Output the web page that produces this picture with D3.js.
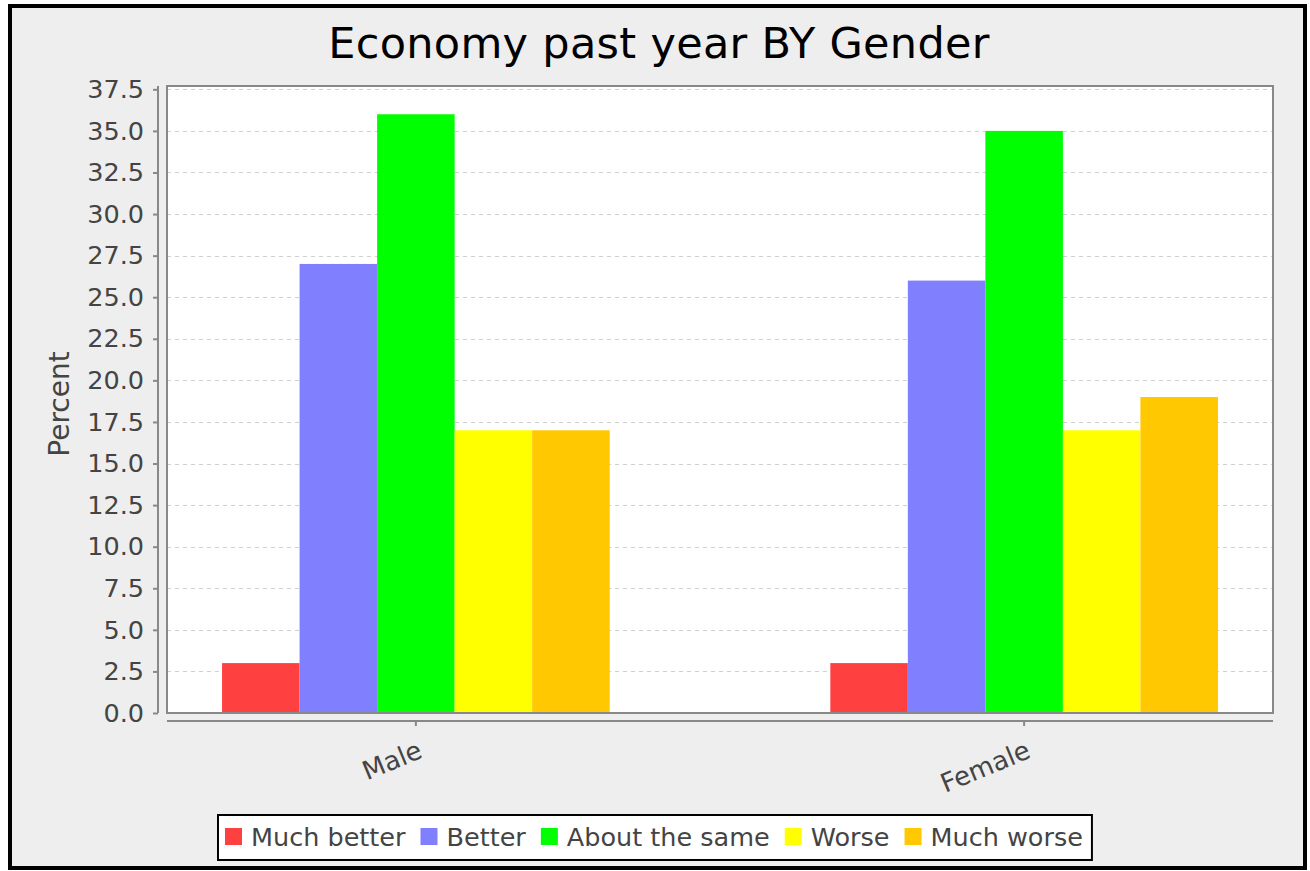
<!DOCTYPE html>
<html>
<head>
<meta charset="utf-8">
<script src="https://cdn.jsdelivr.net/npm/d3@7"></script>
<style>
  body { margin: 0; background: #ffffff; }
  svg text { font-family: "DejaVu Sans", sans-serif; }
</style>
</head>
<body>
<div class="chart"></div>
<script>
// chart data
const categories = ["Male", "Female"];
const seriesNames = ["Much better", "Better", "About the same", "Worse", "Much worse"];
const muchBetter = [3, 3];
const better = [27, 26];
const aboutSame = [36, 35];
const worse = [17, 17];
const muchWorse = [17, 19];
const yTicks = [0, 2.5, 5, 7.5, 10, 12.5, 15, 17.5, 20, 22.5, 25, 27.5, 30, 32.5, 35, 37.5];
const colors = ["#ff4040", "#8080ff", "#00ff00", "#ffff00", "#ffc800"];

const seriesValues = [muchBetter, better, aboutSame, worse, muchWorse];

const WIDTH = 1310;
const HEIGHT = 871;
const PLOT = { left: 167, right: 1273, top: 86, bottom: 713 };

var svg = d3.select(".chart")
  .append("svg")
  .attr("width", WIDTH)
  .attr("height", HEIGHT);

// background and frame
svg.append("rect")
  .attr("x", 0).attr("y", 0)
  .attr("width", WIDTH).attr("height", HEIGHT)
  .attr("fill", "#ffffff");
svg.append("rect")
  .attr("x", 10).attr("y", 6)
  .attr("width", 1295).attr("height", 862)
  .attr("fill", "#eeeeee")
  .attr("stroke", "#000")
  .attr("stroke-width", 4);

// title
svg.append("text")
  .attr("x", 659)
  .attr("y", 58)
  .attr("text-anchor", "middle")
  .attr("font-size", 43)
  .attr("letter-spacing", 0.3)
  .attr("fill", "#000")
  .text("Economy past year BY Gender");

// scales
var x0 = d3.scaleBand()
  .domain(categories)
  .range([PLOT.left, PLOT.right])
  .paddingInner(0.3627)
  .paddingOuter(0.0905);

var x1 = d3.scaleBand()
  .domain(seriesNames)
  .range([0, x0.bandwidth()]);

var y = d3.scaleLinear()
  .domain([0, 37.7])
  .range([PLOT.bottom, PLOT.top]);

// plot area
svg.append("rect")
  .attr("x", PLOT.left).attr("y", PLOT.top)
  .attr("width", PLOT.right - PLOT.left)
  .attr("height", PLOT.bottom - PLOT.top)
  .attr("fill", "#ffffff");

// gridlines
svg.append("g")
  .selectAll("line")
  .data(yTicks.filter((d) => d > 0))
  .join("line")
  .attr("x1", PLOT.left).attr("x2", PLOT.right)
  .attr("y1", (d) => Math.round(y(d)) + 0.5)
  .attr("y2", (d) => Math.round(y(d)) + 0.5)
  .attr("stroke", "#d0d0d0")
  .attr("stroke-width", 1)
  .attr("stroke-dasharray", "4,4");

// bars
var rows = categories.map((c, i) => ({
  cat: c,
  vals: seriesNames.map((s, j) => ({ name: s, value: seriesValues[j][i], color: colors[j] })),
}));

svg.append("g")
  .selectAll("g")
  .data(rows)
  .join("g")
  .attr("transform", (d) => "translate(" + x0(d.cat) + ",0)")
  .selectAll("rect")
  .data((d) => d.vals)
  .join("rect")
  .attr("x", (d) => x1(d.name))
  .attr("y", (d) => y(d.value))
  .attr("width", x1.bandwidth())
  .attr("height", (d) => y(0) - y(d.value))
  .attr("fill", (d) => d.color);

// plot outline
svg.append("rect")
  .attr("x", PLOT.left).attr("y", PLOT.top)
  .attr("width", PLOT.right - PLOT.left)
  .attr("height", PLOT.bottom - PLOT.top)
  .attr("fill", "none")
  .attr("stroke", "#888888")
  .attr("stroke-width", 2);

// y axis
svg.append("g")
  .attr("transform", "translate(158,0)")
  .call(d3.axisLeft(y).tickValues(yTicks).tickFormat(d3.format(".1f")).tickSize(5).tickPadding(9))
  .call((g) => g.select(".domain").attr("d", "M0," + PLOT.top + "V" + PLOT.bottom))
  .call((g) => g.selectAll("path, line").attr("stroke", "#888888").attr("stroke-width", 2))
  .call((g) => g.selectAll(".tick text")
    .attr("font-size", 25.5)
    .attr("fill", "#444444")
    .attr("font-family", "DejaVu Sans"));

// x axis
svg.append("g")
  .attr("transform", "translate(0,721)")
  .call(d3.axisBottom(x0).tickSize(5).tickFormat(""))
  .call((g) => g.select(".domain").attr("d", "M" + PLOT.left + ",0H" + PLOT.right))
  .call((g) => g.selectAll("path, line").attr("stroke", "#888888").attr("stroke-width", 2));

svg.append("g")
  .selectAll("text")
  .data(categories)
  .join("text")
  .attr("transform", (d) => "translate(" + (x0(d) + x0.bandwidth() / 2 + 8) + ",757) rotate(-22.5)")
  .attr("text-anchor", "end")
  .attr("font-size", 26)
  .attr("fill", "#444444")
  .text((d) => d);

// y axis label
svg.append("text")
  .attr("transform", "translate(69,404) rotate(-90)")
  .attr("text-anchor", "middle")
  .attr("font-size", 28)
  .attr("fill", "#444444")
  .text("Percent");

// legend
var legend = svg.append("g");
var legendBox = legend.append("rect")
  .attr("y", 815)
  .attr("height", 45)
  .attr("fill", "#ffffff")
  .attr("stroke", "#000")
  .attr("stroke-width", 2);

var lx = 225;
seriesNames.forEach((name, i) => {
  legend.append("rect")
    .attr("x", lx).attr("y", 828)
    .attr("width", 17).attr("height", 17)
    .attr("fill", colors[i]);
  var t = legend.append("text")
    .attr("x", lx + 26)
    .attr("y", 846)
    .attr("font-size", 25.5)
    .attr("fill", "#444444")
    .text(name);
  lx += 26 + t.node().getComputedTextLength() + 15;
});
legendBox.attr("x", 218).attr("width", lx - 218 - 6);
</script>
</body>
</html>
